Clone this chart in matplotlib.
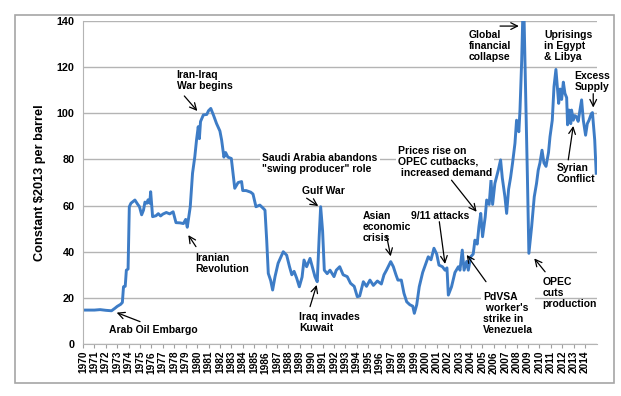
import numpy as np
import matplotlib.pyplot as plt
from matplotlib.patches import Rectangle

plt.rcParams['font.family'] = ['Liberation Sans', 'DejaVu Sans']
plt.rcParams['font.weight'] = 'bold'

# monthly-ish readings of real crude price, constant 2013 $ per barrel
years = [1970.0, 1971.0, 1971.5, 1972.0, 1972.5, 1972.8, 1973.0, 1973.3, 1973.45, 1973.55,
         1973.7, 1973.8, 1973.95, 1974.06, 1974.2, 1974.55, 1974.8, 1974.95, 1975.14, 1975.3,
         1975.43, 1975.6, 1975.7, 1975.85, 1975.93, 1976.1, 1976.4, 1976.6, 1976.8, 1977.0,
         1977.3, 1977.6, 1977.9, 1978.15, 1978.5, 1978.8, 1979.0, 1979.14, 1979.4, 1979.6,
         1979.8, 1979.95, 1980.1, 1980.2, 1980.3, 1980.55, 1980.85, 1981.0, 1981.2, 1981.45,
         1981.7, 1982.0, 1982.15, 1982.35, 1982.5, 1982.7, 1983.0, 1983.3, 1983.6, 1983.9,
         1984.0, 1984.3, 1984.7, 1984.9, 1985.16, 1985.5, 1985.8, 1985.95, 1986.1, 1986.24,
         1986.45, 1986.62, 1986.83, 1987.1, 1987.55, 1987.85, 1988.1, 1988.3, 1988.5, 1988.73,
         1988.96, 1989.2, 1989.37, 1989.6, 1989.9, 1990.1, 1990.33, 1990.53, 1990.7, 1990.83,
         1991.0, 1991.15, 1991.4, 1991.65, 1992.0, 1992.2, 1992.5, 1992.8, 1993.16, 1993.45,
         1993.77, 1994.04, 1994.25, 1994.57, 1994.85, 1995.15, 1995.45, 1995.8, 1996.15, 1996.38,
         1996.6, 1996.97, 1997.2, 1997.43, 1997.6, 1997.9, 1998.13, 1998.37, 1998.65, 1998.9,
         1999.04, 1999.25, 1999.47, 1999.77, 1999.95, 2000.26, 2000.5, 2000.76, 2001.0, 2001.2,
         2001.5, 2001.73, 2001.9, 2002.02, 2002.3, 2002.6, 2002.9, 2003.04, 2003.24, 2003.4,
         2003.63, 2003.77, 2003.98, 2004.2, 2004.35, 2004.55, 2004.7, 2004.86, 2005.02, 2005.25,
         2005.38, 2005.6, 2005.76, 2005.9, 2006.1, 2006.4, 2006.6, 2006.75, 2006.98, 2007.13,
         2007.3, 2007.48, 2007.65, 2007.86, 2008.0, 2008.2, 2008.3, 2008.45, 2008.55, 2008.65,
         2008.83, 2008.95, 2009.08, 2009.32, 2009.55, 2009.75, 2009.9, 2010.05, 2010.23, 2010.4,
         2010.58, 2010.8, 2010.93, 2011.13, 2011.28, 2011.45, 2011.57, 2011.69, 2011.82, 2011.95,
         2012.1, 2012.24, 2012.39, 2012.47, 2012.6, 2012.75, 2012.82, 2012.97, 2013.1, 2013.25,
         2013.4, 2013.56, 2013.7, 2013.85, 2014.05, 2014.2, 2014.35, 2014.55, 2014.65, 2014.85,
         2014.98]
prices = [14.7, 14.7, 14.9, 14.6, 14.4, 15.5, 16.3, 17.2, 18.0, 24.8,
          25.0, 32.0, 32.5, 59.5, 61.0, 62.4, 60.5, 59.5, 56.0, 58.0,
          61.5, 61.0, 62.5, 61.0, 66.0, 55.2, 55.6, 56.5, 55.5, 56.3,
          57.0, 56.4, 57.3, 52.6, 52.5, 52.2, 54.0, 50.6, 59.5, 74.0,
          81.2, 88.4, 94.2, 89.0, 96.4, 99.3, 99.5, 101.1, 102.1, 99.0,
          95.6, 92.3, 88.4, 81.0, 83.0, 81.0, 80.4, 67.5, 70.0, 70.4,
          66.5, 66.5, 65.8, 65.0, 59.5, 60.2, 58.8, 58.0, 45.0, 30.6,
          27.5, 23.4, 29.2, 35.0, 40.0, 38.5, 33.5, 30.0, 31.5, 28.5,
          24.8, 29.0, 36.4, 33.5, 37.1, 33.5, 29.2, 27.0, 46.5, 59.5,
          49.0, 32.0, 30.5, 32.0, 29.2, 32.0, 33.5, 30.0, 29.2, 26.3,
          25.0, 20.5, 20.8, 27.0, 25.0, 27.7, 25.4, 27.3, 26.0, 30.0,
          32.0, 35.7, 33.5, 30.0, 27.7, 27.7, 22.0, 18.3, 17.0, 16.4,
          13.3, 17.0, 24.8, 31.0, 33.5, 37.8, 36.5, 41.5, 39.0, 34.2,
          33.5, 32.0, 33.0, 21.2, 24.8, 31.0, 33.5, 32.0, 40.7, 32.0,
          35.8, 32.0, 37.8, 39.0, 45.0, 43.3, 50.8, 56.6, 46.5, 55.0,
          62.4, 60.5, 71.0, 60.5, 69.6, 75.4, 79.8, 72.0, 63.8, 56.6,
          67.0, 72.3, 78.5, 87.0, 97.0, 92.0, 101.4, 123.0, 143.0, 143.0,
          101.4, 72.5, 39.3, 50.8, 63.8, 69.6, 75.4, 78.5, 84.0, 78.5,
          77.0, 83.0, 89.8, 97.0, 111.5, 119.0, 111.5, 104.3, 110.5, 106.0,
          113.5, 108.6, 106.8, 95.0, 101.4, 95.5, 101.4, 97.0, 99.0, 98.5,
          96.5, 101.4, 105.8, 97.0, 90.5, 95.5, 97.0, 99.8, 100.3, 88.4,
          74.0]

year_ticks = list(range(1970, 2015))
price_ticks = [0, 20, 40, 60, 80, 100, 120, 140]

W, H = 621, 396
fig = plt.figure(figsize=(W / 100, H / 100), dpi=100)
ax = fig.add_axes([83 / W, 1 - 344 / H, (597 - 83) / W, (344 - 21) / H])

ax.plot(years, prices, color='#3d7cc6', lw=2.1, solid_joinstyle='round', zorder=2)

ax.set_xlim(1970, 2015.05)
ax.set_ylim(0, 140)
ax.set_xticks(year_ticks)
ax.set_xticklabels([str(y) for y in year_ticks], rotation=90, fontsize=7.3, fontweight='bold')
ax.set_yticks(price_ticks)
ax.set_yticklabels([str(p) for p in price_ticks], fontsize=7.8, fontweight='bold')
ax.tick_params(axis='x', length=3, width=0.8, color='#a0a0a0', pad=2)
ax.tick_params(axis='y', length=0, pad=6)
ax.yaxis.grid(True, color='#b4b4b4', lw=1.0, zorder=0)
ax.set_axisbelow(True)
for s in ['top', 'right']:
    ax.spines[s].set_visible(False)
ax.spines['left'].set_color('#b4b4b4')
ax.spines['bottom'].set_color('#b4b4b4')
ax.set_ylabel(r'Constant \$2013 per barrel', fontsize=9.2, fontweight='bold', labelpad=8)

fs = 7.5
arrow = dict(arrowstyle='->', color='black', lw=0.9, mutation_scale=12, shrinkA=0, shrinkB=0)
white = dict(facecolor='white', edgecolor='none', pad=1.5)

def note(txt, x, y, box=False, ha='left'):
    ax.text(x, y, txt, fontsize=fs, fontweight='bold', ha=ha, va='top', linespacing=1.12,
            bbox=white if box else None, zorder=3, clip_on=False)

def point(tail, head):
    ax.annotate('', xy=head, xytext=tail, arrowprops=arrow, annotation_clip=False, zorder=4)

note('Arab Oil Embargo', 1972.3, 8.4)
point((1975.0, 9.7), (1972.95, 13.6))

note('Iranian\nRevolution', 1979.82, 39.3)
point((1979.9, 42.2), (1979.23, 47.2))

note('Iran-Iraq\nWar begins', 1978.2, 118.8)
point((1978.88, 107.5), (1980.02, 101.0))

note('Saudi Arabia abandons\n"swing producer" role', 1985.71, 82.9, box=True)

note('Gulf War', 1989.16, 68.5)
point((1989.6, 63.2), (1990.62, 59.8))

note('Iraq invades\nKuwait', 1988.93, 14.0)
point((1989.9, 16.2), (1990.48, 25.6))

note('Asian\neconomic\ncrisis', 1994.5, 57.6)
point((1996.6, 47.0), (1996.97, 38.0))

note('9/11 attacks', 1998.75, 57.8)
point((2001.23, 53.0), (2001.73, 34.7))

note('Prices rise on\nOPEC cutbacks,\n increased demand', 1997.58, 86.0, box=True)
point((2002.3, 71.0), (2004.5, 57.3))

note('PdVSA\n worker\'s\nstrike in\nVenezuela', 2005.08, 22.7, box=True)
point((2005.32, 27.0), (2003.63, 38.6))

note('OPEC\ncuts\nproduction', 2010.26, 28.9)
point((2010.5, 31.3), (2009.55, 37.1))

note('Global\nfinancial\ncollapse', 2003.83, 136.0)
point((2006.55, 137.8), (2008.2, 137.8))

note('Uprisings\nin Egypt\n& Libya', 2010.4, 136.0)

note('Excess\nSupply', 2013.06, 118.5, box=True)
point((2014.72, 108.5), (2014.72, 102.5))

note('Syrian\nConflict', 2011.5, 78.3)
point((2012.53, 79.8), (2012.97, 94.5))

# grey frame round the whole chart
fig.patches.append(Rectangle((15 / W, 1 - 383 / H), (614 - 15) / W, (383 - 15) / H,
                             transform=fig.transFigure, fill=False, edgecolor='#a6a6a6', lw=1.2))

fig.savefig('out.png', dpi=100)
